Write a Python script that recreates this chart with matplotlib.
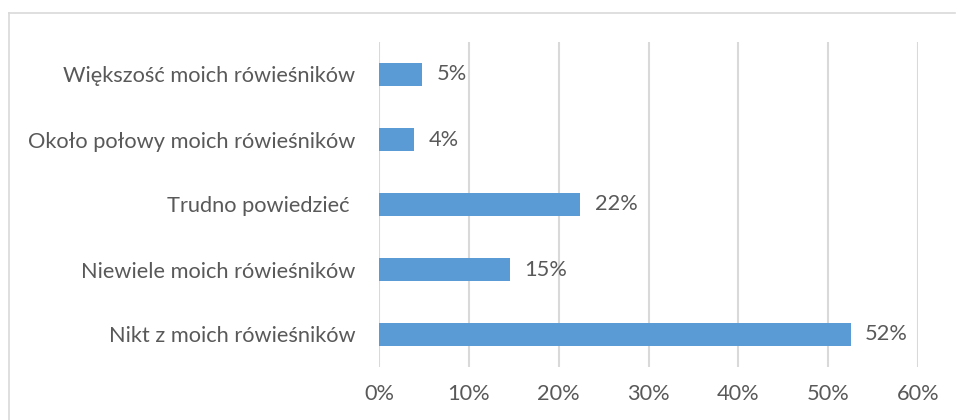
import matplotlib
matplotlib.use("Agg")
import matplotlib.pyplot as plt
from matplotlib.lines import Line2D

categories = ["Nikt z moich rówieśników", "Niewiele moich rówieśników",
              "Trudno powiedzieć ", "Około połowy moich rówieśników",
              "Większość moich rówieśników"]
values = [52.5, 14.6, 22.4, 3.9, 4.8]
labels = ["52%", "15%", "22%", "4%", "5%"]
xticks = [0, 10, 20, 30, 40, 50, 60]
xticklabels = ["0%", "10%", "20%", "30%", "40%", "50%", "60%"]

plt.rcParams['font.family'] = ['Lato', 'DejaVu Sans']
W, H = 956, 420
fig = plt.figure(figsize=(W / 100, H / 100), dpi=100)
ax = fig.add_axes([379 / W, 1 - 367 / H, (918 - 379) / W, (367 - 42) / H])

fs = 15.7
text_color = "#595959"
ax.barh(range(len(categories)), values, height=0.355, color="#5b9bd5", zorder=3)
for i, (v, lab) in enumerate(zip(values, labels)):
    ax.text(v + 1.6, i, lab, va="center", ha="left", fontsize=fs, color=text_color)

ax.set_xlim(0, 60)
ax.set_ylim(-0.5, len(categories) - 0.5)
ax.set_xticks(xticks)
ax.set_xticklabels(xticklabels, fontsize=fs, color=text_color)
ax.set_yticks(range(len(categories)))
ax.set_yticklabels(categories, fontsize=fs, color=text_color)
ax.tick_params(axis="both", length=0)
ax.tick_params(axis="x", pad=12)
ax.tick_params(axis="y", pad=17)
ax.grid(axis="x", color="#d9d9d9", linewidth=1.5, zorder=0)
for s in ax.spines.values():
    s.set_visible(False)

# chart area border (top and left visible)
fig.add_artist(Line2D([8.5 / W, 8.5 / W], [0, 1 - 13 / H], transform=fig.transFigure,
                      color="#d9d9d9", linewidth=1.2))
fig.add_artist(Line2D([8.5 / W, 955 / W], [1 - 13 / H, 1 - 13 / H], transform=fig.transFigure,
                      color="#d9d9d9", linewidth=1.2))

fig.savefig("out.png", dpi=100, facecolor="white")
